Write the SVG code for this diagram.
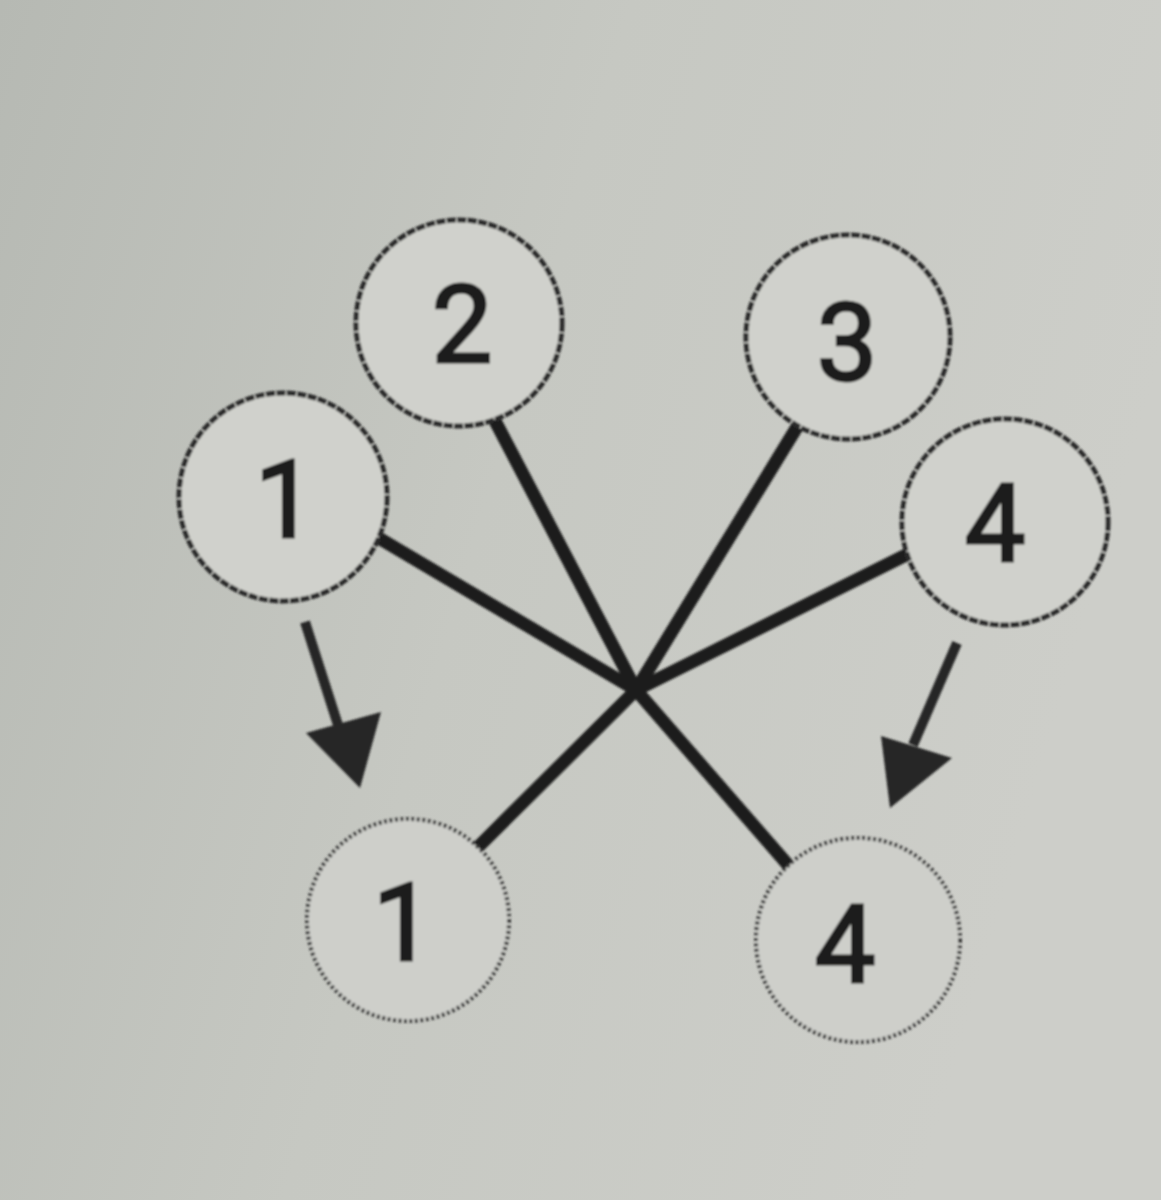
<svg xmlns="http://www.w3.org/2000/svg" width="1161" height="1200" viewBox="0 0 1161 1200">
  <defs>
    <linearGradient id="bg" x1="0" y1="0" x2="1" y2="0.3">
      <stop offset="0" stop-color="#b6b9b3"/>
      <stop offset="0.5" stop-color="#c6c8c2"/>
      <stop offset="1" stop-color="#cdcec9"/>
    </linearGradient>
    <filter id="soft" x="-5%" y="-5%" width="110%" height="110%">
      <feGaussianBlur stdDeviation="1.2"/>
    </filter>
    <style>
      .node-top { fill: #d0d1cc; stroke: #2a2a2a; stroke-width: 5; stroke-dasharray: 9 1.5; }
      .node-bot { fill: #cecfca; stroke: #3a3a3a; stroke-width: 4; stroke-dasharray: 3 2.5; }
      .lbl { font-family: Roboto, "Liberation Sans", Arial, sans-serif; font-size: 108px; fill: #1e1e1e; stroke: #1e1e1e; stroke-width: 3; text-anchor: middle; }
      .conn { stroke: #1c1c1c; stroke-width: 13; stroke-linecap: butt; fill: none; }
      .arr { stroke: #262626; stroke-width: 10; fill: none; }
      .head { fill: #262626; }
    </style>
  </defs>
  <rect width="1161" height="1200" fill="url(#bg)"/>
  <g filter="url(#soft)">
    <g id="connectors">
      <line class="conn" x1="377" y1="537" x2="636" y2="690"/>
      <line class="conn" x1="493" y1="417" x2="636" y2="690"/>
      <line class="conn" x1="797" y1="427" x2="636" y2="690"/>
      <line class="conn" x1="910" y1="553" x2="636" y2="690"/>
      <line class="conn" x1="636" y1="690" x2="795" y2="873"/>
      <line class="conn" x1="636" y1="690" x2="470" y2="855"/>
      <line class="arr" x1="305" y1="622" x2="338" y2="725"/>
      <polygon class="head" points="306,733 381,712 360,788"/>
      <line class="arr" x1="957" y1="643" x2="913" y2="745"/>
      <polygon class="head" points="881,736 952,758 890,808"/>
    </g>
    <g id="node-1-top">
      <circle class="node-top" cx="283" cy="497" r="104"/>
      <text class="lbl" x="285" y="537">1</text>
    </g>
    <g id="node-2-top">
      <circle class="node-top" cx="459" cy="323" r="103"/>
      <text class="lbl" x="462" y="362">2</text>
    </g>
    <g id="node-3-top">
      <circle class="node-top" cx="848" cy="337" r="102"/>
      <text class="lbl" x="847" y="380">3</text>
    </g>
    <g id="node-4-top">
      <circle class="node-top" cx="1005" cy="522" r="103"/>
      <text class="lbl" x="995" y="561">4</text>
    </g>
    <g id="node-1-bottom">
      <circle class="node-bot" cx="408" cy="920" r="101"/>
      <text class="lbl" x="403" y="960">1</text>
    </g>
    <g id="node-4-bottom">
      <circle class="node-bot" cx="858" cy="940" r="102"/>
      <text class="lbl" x="845" y="982">4</text>
    </g>
  </g>
</svg>
